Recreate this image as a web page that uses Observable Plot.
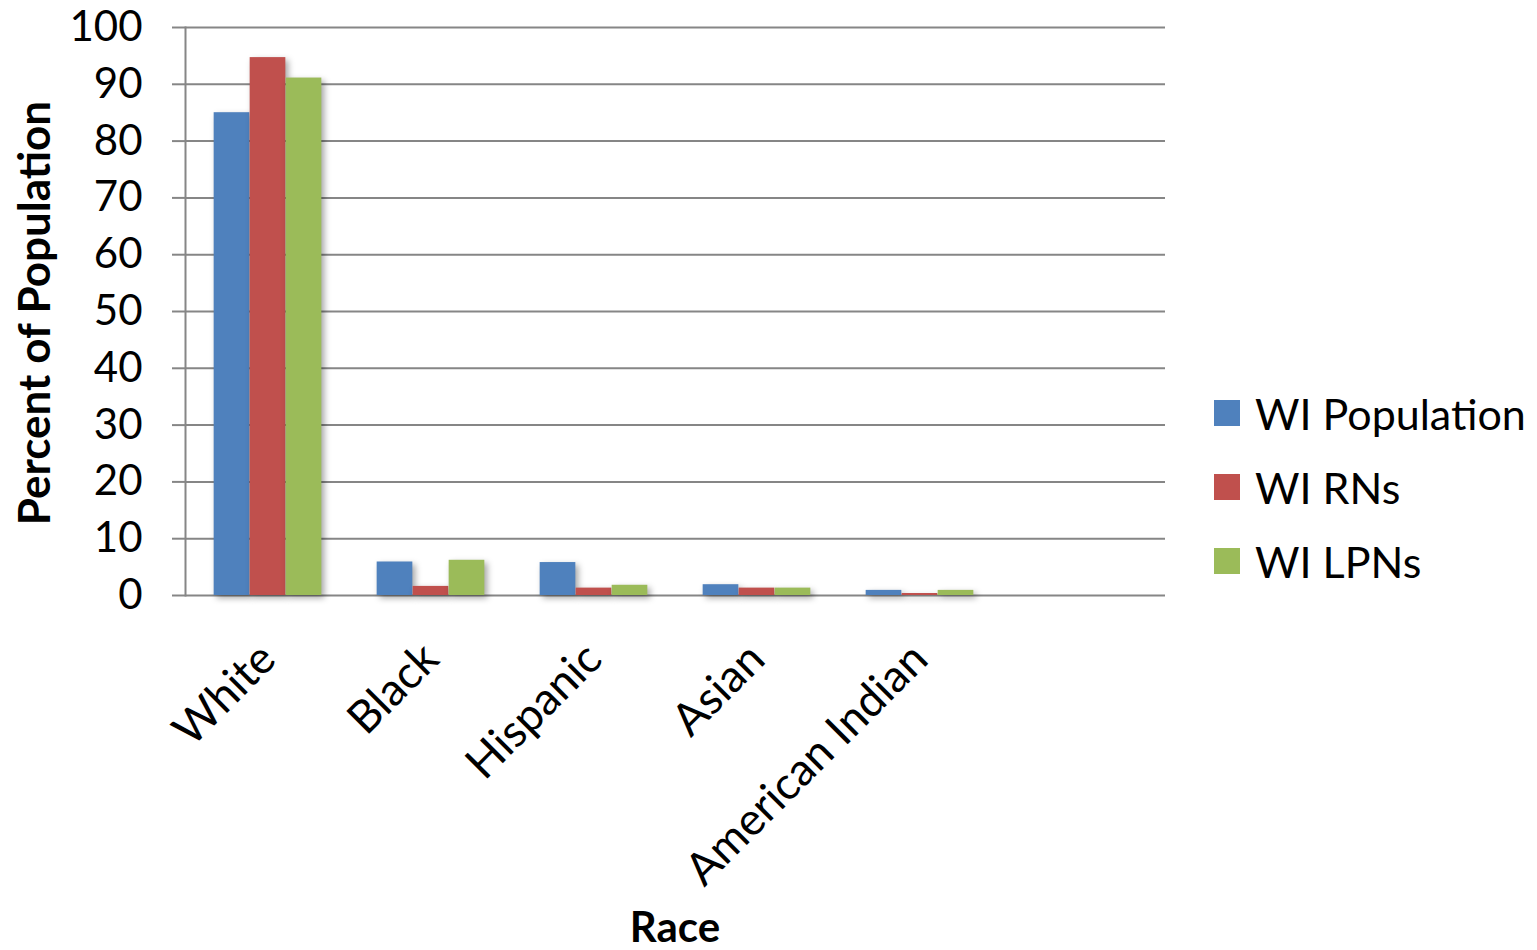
<!DOCTYPE html>
<html>
<head>
<meta charset="utf-8">
<script src="https://cdn.jsdelivr.net/npm/d3@7"></script>
<script src="https://cdn.jsdelivr.net/npm/@observablehq/plot@0.6"></script>
<style>
  html, body { margin: 0; padding: 0; background: #fff; }
  #wrap { position: relative; width: 1537px; height: 950px; font-family: Lato, "Open Sans", sans-serif; overflow: hidden; }
  #wrap svg { position: absolute; left: 0; top: 0; }
  .bars rect { filter: drop-shadow(3px 3px 3px rgba(0,0,0,0.35)); }
  .legend { position: absolute; left: 1214px; top: 376px; }
  .legend .row { display: flex; align-items: center; height: 74px; font-size: 43px; color: #000; }
  .legend .sw { width: 26px; height: 26px; margin-right: 15px; }
  .ylab { position: absolute; left: 33px; top: 313px; transform: translate(-50%, -50%) rotate(-90deg); font-weight: bold; font-size: 44px; white-space: nowrap; }
  .xlab { position: absolute; left: 675px; top: 926px; transform: translate(-50%, -50%); font-weight: bold; font-size: 42px; line-height: 1; }
</style>
</head>
<body>
<div id="wrap"></div>
<script>
const races = ["White", "Black", "Hispanic", "Asian", "American Indian"];
const series = ["WI Population", "WI RNs", "WI LPNs"];
const colors = ["#4F81BD", "#C0504D", "#9BBB59"];
const wiPopulation = [85, 5.9, 5.8, 1.9, 0.9];
const wiRNs = [94.7, 1.6, 1.3, 1.3, 0.35];
const wiLPNs = [91.1, 6.2, 1.8, 1.3, 0.9];
const yTicks = [0, 10, 20, 30, 40, 50, 60, 70, 80, 90, 100];

const valuesBySeries = [wiPopulation, wiRNs, wiLPNs];
const data = series.flatMap((s, i) => races.map((r, j) => ({race: r, series: s, value: valuesBySeries[i][j]})));

const W = 1537, H = 950;
const mL = 185, mR = 372, mT = 27, mB = 355;
const band = (W - mL - mR) / 6;
const barW = 36;
const inset = (band - barW) / 2;
const grid = "#868686";

const chart = Plot.plot({
  width: W, height: H,
  marginLeft: mL, marginRight: mR, marginTop: mT, marginBottom: mB,
  style: {fontFamily: "Lato, 'Open Sans', sans-serif", fontSize: "42px", color: "#000", background: "transparent"},
  x: {domain: [...races, ""], padding: 0},
  y: {domain: [0, 100]},
  color: {domain: series, range: colors},
  marks: [
    Plot.ruleY(yTicks, {stroke: grid, strokeWidth: 2}),
    Plot.frame({anchor: "left", stroke: grid, strokeWidth: 2}),
    ...series.map((s, i) => Plot.barY(data.filter(d => d.series === s), {
      x: "race", y: "value", fill: "series", dx: (i - 1) * barW,
      insetLeft: inset, insetRight: inset, className: "bars"
    })),
    Plot.axisY({ticks: yTicks, tickSize: 13, tickPadding: 30, stroke: grid, strokeWidth: 2, label: null, fontSize: 42, strokeOpacity: 1}),
    Plot.axisX({tickSize: 0, tickPadding: 56, tickRotate: -45, label: null, fontSize: 45, tickFormat: d => d})
  ]
});
const wrap = document.getElementById("wrap");
wrap.appendChild(chart);

const legend = document.createElement("div");
legend.className = "legend";
series.forEach((s, i) => {
  const row = document.createElement("div");
  row.className = "row";
  row.innerHTML = `<div class="sw" style="background:${colors[i]}"></div><span>${s}</span>`;
  legend.appendChild(row);
});
wrap.appendChild(legend);

const yl = document.createElement("div");
yl.className = "ylab"; yl.textContent = "Percent of Population";
wrap.appendChild(yl);
const xl = document.createElement("div");
xl.className = "xlab"; xl.textContent = "Race";
wrap.appendChild(xl);
</script>
</body>
</html>
